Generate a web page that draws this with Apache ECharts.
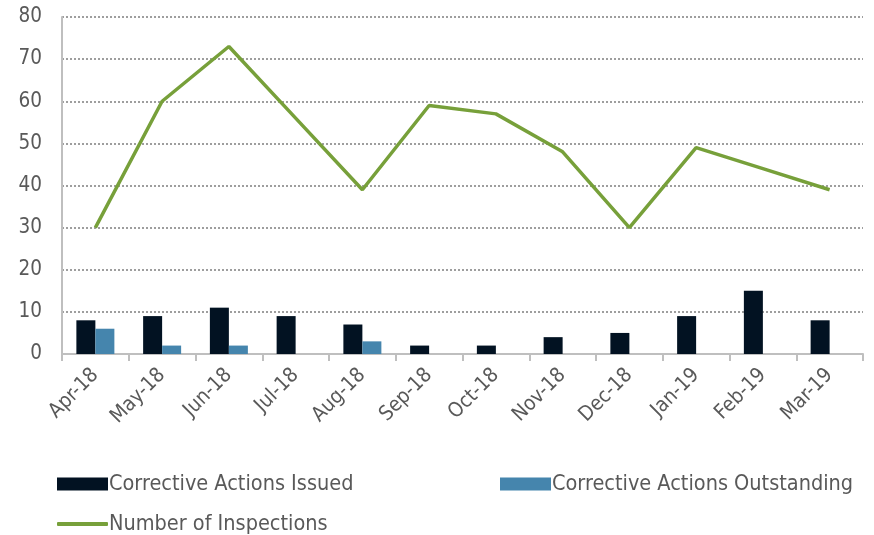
<!DOCTYPE html>
<html><head><meta charset="utf-8">
<script src="https://cdn.jsdelivr.net/npm/echarts@6/dist/echarts.min.js"></script>
<style>html,body{margin:0;padding:0;background:#fff}#c{width:874px;height:535px}</style>
</head><body><div id="c"></div>
<script>
var categories = ['Apr-18','May-18','Jun-18','Jul-18','Aug-18','Sep-18','Oct-18','Nov-18','Dec-18','Jan-19','Feb-19','Mar-19'];
var issued = [8,9,11,9,7,2,2,4,5,9,15,8];
var outstanding = [6,2,2,0,3,0,0,0,0,0,0,0];
var inspections = [30,60,73,56,39,59,57,48,30,49,44,39];
var yTicks = [0,10,20,30,40,50,60,70,80];

var FONT = '"DejaVu Sans Condensed","Open Sans",sans-serif';
var TXT = '#595959';
var chart = echarts.init(document.getElementById('c'));
function leg(name, left, top, icon, h){
  return {data:[{name:name, icon:icon}], left:left, top:top, itemWidth:51, itemHeight:h, itemGap:0,
    textStyle:{fontFamily:FONT, fontSize:21.5, color:TXT, padding:[0,0,0,-4]}, selectedMode:false};
}
chart.setOption({
  animation:false,
  grid:{left:62, right:11, top:17, bottom:181},
  legend:[
    leg('Corrective Actions Issued', 52, 468, 'rect', 13),
    leg('Corrective Actions Outstanding', 495, 468, 'rect', 13),
    leg('Number of Inspections', 52, 508, 'roundRect', 4)
  ],
  xAxis:{type:'category', data:categories, boundaryGap:true,
    axisLine:{lineStyle:{color:'#bfbfbf', width:2}},
    axisTick:{show:true, length:7, lineStyle:{color:'#bfbfbf', width:2}, alignWithLabel:false},
    axisLabel:{rotate:45, margin:18, fontFamily:FONT, fontSize:20.5, color:TXT, interval:0}},
  yAxis:{type:'value', min:0, max:80, interval:10,
    axisLine:{show:true, lineStyle:{color:'#bfbfbf', width:2}},
    axisTick:{show:false},
    axisLabel:{margin:20, fontFamily:FONT, fontSize:20.5, color:TXT,
      formatter:function(v){return yTicks.indexOf(v)>=0 ? String(v) : '';}},
    splitLine:{lineStyle:{color:'#7f7f7f', type:[2,2], width:1.5}}},
  series:[
    {name:'Corrective Actions Issued', type:'bar', data:issued, barWidth:19, barGap:'0%',
      itemStyle:{color:'#021222'}},
    {name:'Corrective Actions Outstanding', type:'bar', data:outstanding, barWidth:19,
      itemStyle:{color:'#4585ad'}},
    {name:'Number of Inspections', type:'line', data:inspections, symbol:'none',
      lineStyle:{color:'#77a03a', width:3.5}, itemStyle:{color:'#77a03a'}, z:5}
  ]
});
</script></body></html>
